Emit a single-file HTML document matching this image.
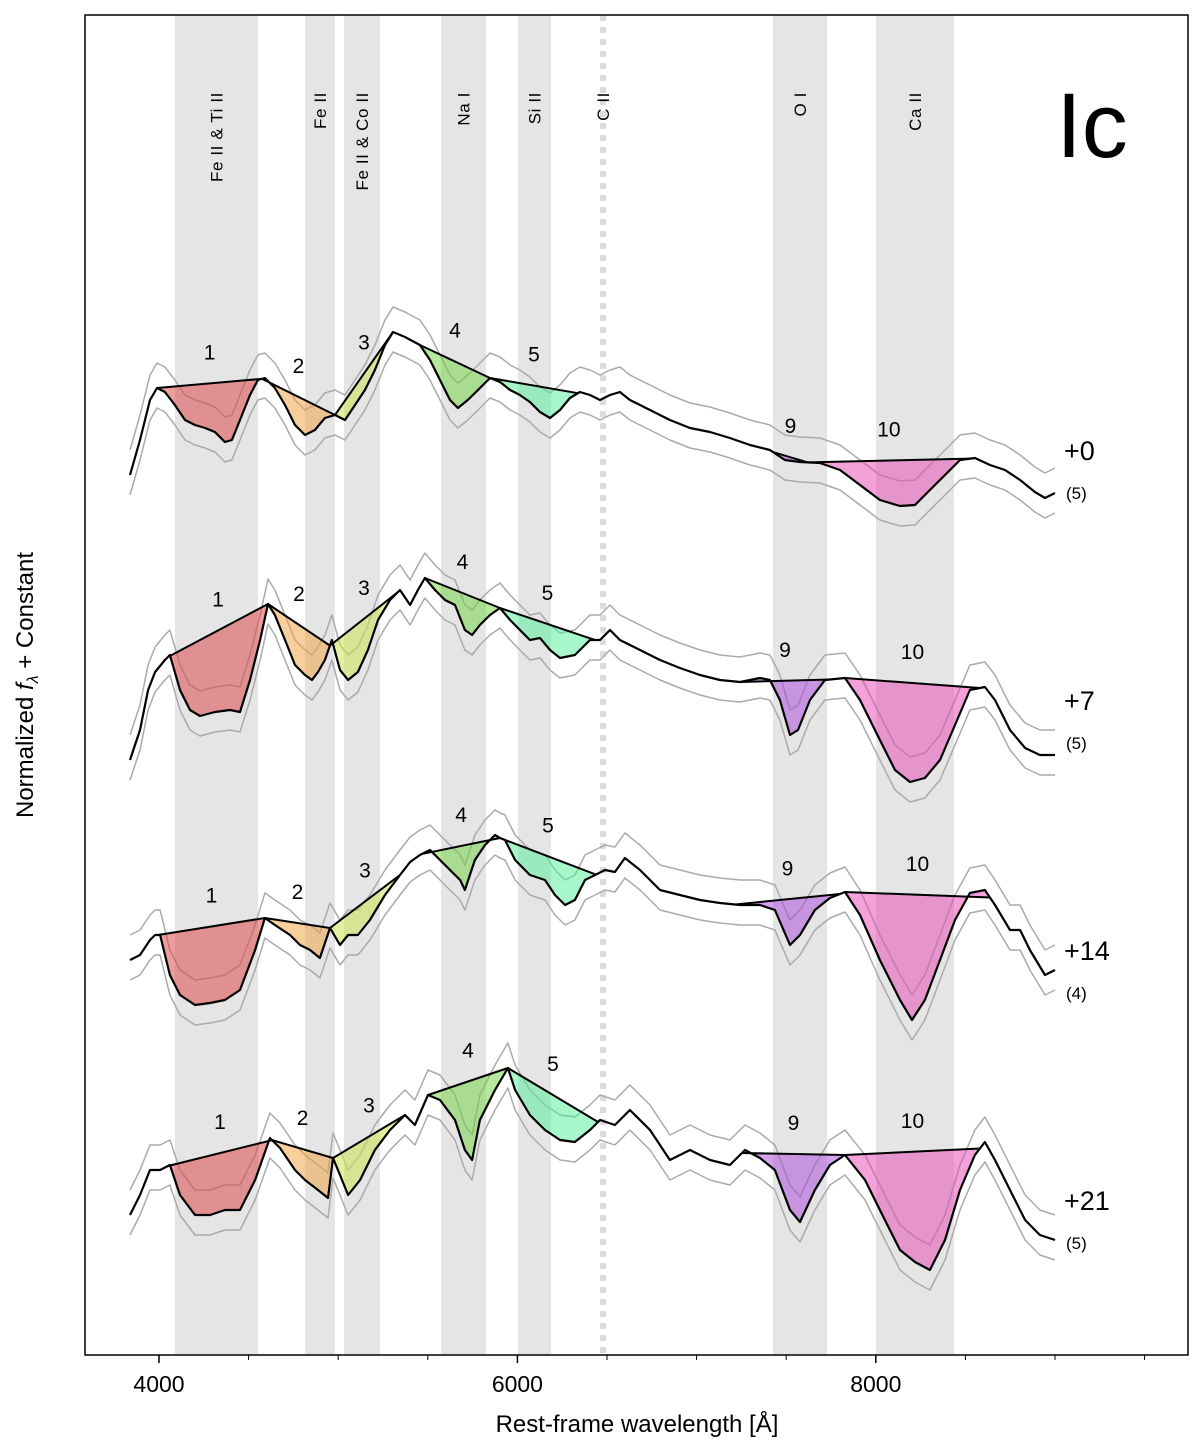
<!DOCTYPE html>
<html><head><meta charset="utf-8">
<style>
body{margin:0;background:#fff;}
svg{display:block;font-family:"Liberation Sans","DejaVu Sans",sans-serif;}
</style></head>
<body>
<svg id="chart" width="1200" height="1445" viewBox="0 0 1200 1445" xmlns="http://www.w3.org/2000/svg">
<g id="bands"></g>
<g id="spectra"></g>
<rect x="85" y="15" width="1103" height="1340" fill="none" stroke="#000" stroke-width="1.5"/>
<g id="axes"></g>
<text x="637" y="1432" font-size="24" text-anchor="middle">Rest-frame wavelength [Å]</text>
<text transform="translate(33,685) rotate(-90)" font-size="24" text-anchor="middle">Normalized <tspan font-style="italic">f</tspan><tspan font-style="italic" font-size="16" dy="5">λ</tspan><tspan dy="-5"> + Constant</tspan></text>
<text x="1092" y="157" font-size="92" text-anchor="middle">Ic</text>
</svg>
<script>
// ---- data ----
const bandStarts = [4089, 4815, 5032, 5574, 6003, 7426, 8001];
const bandEnds   = [4552, 4982, 5233, 5825, 6188, 7728, 8436];
const bandLabels = ["Fe II & Ti II", "Fe II", "Fe II & Co II", "Na I", "Si II", "O I", "Ca II"];
const cIIWave = 6478;
const xTicks = [4000, 6000, 8000];
const xMinorTicks = [4500, 5000, 5500, 6500, 7000, 7500, 8500, 9000, 9500];
const phases = ["+0", "+7", "+14", "+21"];
const counts = ["(5)", "(5)", "(4)", "(5)"];
const offsets = [8.55, 6.05, 3.55, 1.05];
const featIds = [1, 2, 3, 4, 5, 9, 10];
const featColors = ["rgba(220,60,60,0.5)","rgba(240,160,60,0.5)","rgba(200,230,80,0.55)","rgba(110,210,60,0.5)","rgba(80,240,150,0.5)","rgba(170,70,220,0.5)","rgba(230,70,180,0.5)"];

const W0 = [3838,3894,3950,3989,4033,4089,4145,4201,4257,4312,4368,4407,4452,4508,4552,4591,4647,4703,4759,4815,4870,4926,4982,5038,5094,5149,5205,5261,5306,5373,5456,5512,5568,5624,5668,5723,5780,5847,5903,5959,6014,6070,6126,6182,6238,6293,6349,6405,6461,6517,6572,6628,6740,6851,6963,7075,7186,7298,7409,7493,7577,7688,7800,7912,8023,8135,8219,8302,8386,8470,8553,8637,8721,8805,8888,8944,9000];
const F0 = [.25,.60,1.00,1.12,1.08,.95,.80,.75,.72,.68,.58,.60,.80,1.05,1.20,1.22,1.12,.95,.75,.65,.70,.82,.85,.80,.95,1.10,1.30,1.55,1.68,1.63,1.55,1.40,1.20,1.00,.92,1.00,1.10,1.22,1.18,1.10,1.05,.98,.88,.82,.90,1.02,1.08,1.05,1.00,1.05,1.08,1.00,.90,.80,.72,.68,.62,.55,.50,.40,.38,.37,.30,.15,0,-.06,-.05,.10,.25,.40,.42,.35,.30,.20,.08,.02,.07];
const W1 = [3838,3894,3939,3978,4033,4061,4117,4173,4229,4312,4396,4452,4508,4564,4608,4647,4703,4759,4815,4854,4887,4926,4965,5010,5055,5110,5166,5222,5289,5345,5401,5445,5484,5540,5596,5652,5707,5747,5791,5847,5903,5959,6014,6070,6126,6182,6238,6321,6405,6461,6517,6572,6684,6796,6907,7019,7130,7242,7354,7409,7465,7521,7566,7633,7716,7828,7912,8023,8107,8191,8274,8358,8442,8525,8609,8665,8749,8833,8916,9000];
const F1 = [-.10,.20,.60,.78,.90,.95,.60,.40,.34,.38,.40,.38,.70,1.10,1.46,1.35,1.10,.85,.75,.70,.78,.90,1.10,.80,.70,.78,1.00,1.30,1.50,1.60,1.45,1.60,1.72,1.60,1.50,1.45,1.20,1.15,1.25,1.35,1.42,1.30,1.20,1.10,1.12,1.00,.92,.95,1.10,1.10,1.20,1.10,1.00,.90,.82,.75,.70,.68,.72,.70,.50,.15,.20,.50,.70,.72,.50,.10,-.20,-.32,-.28,-.10,.25,.60,.63,.50,.20,.02,-.05,-.05];
const W2 = [3838,3894,3950,3978,4006,4061,4117,4201,4285,4368,4452,4536,4591,4647,4731,4787,4843,4898,4954,5010,5055,5110,5177,5261,5345,5401,5456,5512,5568,5624,5680,5707,5763,5819,5875,5903,5931,5987,6070,6154,6210,6266,6321,6377,6433,6489,6544,6600,6684,6796,6907,7019,7130,7242,7354,7437,7521,7577,7660,7744,7828,7912,8023,8135,8202,8274,8358,8442,8525,8609,8665,8749,8805,8860,8944,9000];
const F2 = [.40,.45,.60,.65,.65,.25,.05,-.05,-.03,0,.10,.50,.82,.75,.65,.55,.50,.42,.72,.55,.65,.65,.80,1.05,1.25,1.38,1.45,1.50,1.40,1.30,1.20,1.10,1.40,1.55,1.65,1.62,1.60,1.40,1.25,1.20,1.05,.95,1.00,1.20,1.25,1.30,1.28,1.42,1.30,1.10,1.05,1.00,.97,.95,.95,.90,.55,.65,.90,1.02,1.08,.85,.40,0,-.20,0,.40,.80,1.07,1.10,.95,.70,.70,.50,.25,.30];
const W3 = [3838,3894,3950,4006,4061,4117,4201,4285,4368,4452,4536,4619,4675,4759,4815,4887,4943,4971,5010,5055,5122,5205,5289,5373,5428,5501,5568,5652,5707,5747,5791,5875,5947,5987,6070,6154,6238,6321,6405,6461,6544,6628,6740,6851,6963,7075,7186,7270,7354,7437,7521,7577,7660,7744,7828,7940,8051,8135,8219,8302,8386,8470,8553,8609,8665,8749,8833,8916,9000];
const F3 = [.35,.55,.80,.80,.85,.55,.35,.35,.40,.40,.70,1.12,1.02,.80,.70,.60,.52,.92,.75,.55,.70,1.00,1.20,1.35,1.25,1.55,1.50,1.30,1.00,.90,1.30,1.60,1.82,1.60,1.35,1.20,1.10,1.08,1.20,1.30,1.25,1.40,1.20,.90,1.00,.90,.85,1.00,.92,.80,.40,.28,.60,.85,.95,.70,.30,0,-.12,-.20,.10,.60,.95,1.08,.90,.60,.30,.15,.10];

const featStart0 = [3989,4575,4982,5456,5847,7426,7621];
const featEnd0   = [4575,4982,5306,5847,6338,7621,8525];
const featStart1 = [4050,4608,4954,5484,5903,7242,7828];
const featEnd1   = [4608,4954,5334,5903,6433,7744,8581];
const featStart2 = [3994,4591,4954,5468,5903,7214,7828];
const featEnd2   = [4591,4954,5345,5903,6438,7800,8637];
const featStart3 = [4050,4631,4971,5501,5947,7253,7828];
const featEnd3   = [4631,4971,5373,5947,6450,7828,8581];

const errUp = 0.25, errDown = 0.2;

// ---- helpers ----
const NS = "http://www.w3.org/2000/svg";
const X = w => 159 + (w - 4000) * 0.1792;
const Y = v => 1355 - v * 100;
function mk(tag, attrs, parent){ const e=document.createElementNS(NS,tag); for(const k in attrs) e.setAttribute(k,attrs[k]); parent.appendChild(e); return e; }
function interp(W,F,w){ for(let i=0;i<W.length-1;i++){ if(w>=W[i]&&w<=W[i+1]){ const t=(w-W[i])/(W[i+1]-W[i]); return F[i]+t*(F[i+1]-F[i]); } } return w<W[0]?F[0]:F[F.length-1]; }

// ---- bands ----
const bands = document.getElementById('bands');
for(let i=0;i<bandStarts.length;i++){
  const r = mk('rect',{x:X(bandStarts[i]),y:15,width:X(bandEnds[i])-X(bandStarts[i]),height:1340,fill:'#e5e5e5'},bands);
  
  
  const cx = X((bandStarts[i]+bandEnds[i])/2)+6;
  const t = mk('text',{transform:`translate(${cx},92) rotate(-90)`,'font-size':17,'letter-spacing':'0.6','text-anchor':'end'},bands);
  t.textContent = bandLabels[i];
  
  
}
const cl = mk('line',{x1:X(cIIWave),x2:X(cIIWave),y1:15,y2:1355,stroke:'#dcdcdc','stroke-width':6,'stroke-dasharray':'6,6'},bands);


const ct = mk('text',{transform:`translate(${X(cIIWave)+6},92) rotate(-90)`,'font-size':17,'letter-spacing':'0.6','text-anchor':'end'},bands);
ct.textContent = 'C II';



// ---- spectra ----
const sp = document.getElementById('spectra');
const Ws=[W0,W1,W2,W3], Fs=[F0,F1,F2,F3];
const FSs=[featStart0,featStart1,featStart2,featStart3], FEs=[featEnd0,featEnd1,featEnd2,featEnd3];
for(let s=0;s<4;s++){
  const W=Ws[s],F=Fs[s],off=offsets[s];
  const g = mk('g',{},sp);
  
  
  const line = (d)=>W.map((w,i)=>(i?'L':'M')+X(w).toFixed(1)+','+Y(F[i]+off+d).toFixed(1)).join(' ');
  const u = mk('path',{d:line(errUp),fill:'none',stroke:'#aaa','stroke-width':1.5,'stroke-linejoin':'round'},g);
  
  
  const l = mk('path',{d:line(-errDown),fill:'none',stroke:'#aaa','stroke-width':1.5,'stroke-linejoin':'round'},g);
  
  
  for(let f=0;f<featIds.length;f++){
    const a=FSs[s][f], b=FEs[s][f];
    const fa=interp(W,F,a)+off, fb=interp(W,F,b)+off;
    let pts=[[X(a),Y(fa)]];
    for(let i=0;i<W.length;i++) if(W[i]>a&&W[i]<b) pts.push([X(W[i]),Y(F[i]+off)]);
    pts.push([X(b),Y(fb)]);
    const poly = mk('polygon',{points:pts.map(p=>p[0].toFixed(1)+','+p[1].toFixed(1)).join(' '),fill:featColors[f]},g);
    
    
    const pl = mk('line',{x1:X(a),y1:Y(fa),x2:X(b),y2:Y(fb),stroke:'#000','stroke-width':2},g);
    
    
    const lt = mk('text',{x:(X(a)+X(b))/2,y:(Y(fa)+Y(fb))/2-24,'font-size':21,'text-anchor':'middle'},g);
    lt.textContent = featIds[f];
    
    
  }
  const m = mk('path',{d:line(0),fill:'none',stroke:'#000','stroke-width':2.2,'stroke-linejoin':'round'},g);
  
  
  const pt = mk('text',{x:1064,y:Y(off)-40,'font-size':27},g);
  pt.textContent = phases[s];
  
  
  const nt = mk('text',{x:1066,y:Y(off)-1,'font-size':17},g);
  nt.textContent = counts[s];
  
  
}

// ---- axis ----
const ax = document.getElementById('axes');
xTicks.forEach(t=>{
  const tk = mk('line',{x1:X(t),x2:X(t),y1:1355,y2:1363,stroke:'#000','stroke-width':1.5},ax);
  
  
  const tl = mk('text',{x:X(t),y:1392,'font-size':23,'text-anchor':'middle'},ax);
  tl.textContent = t;
  
  
});
xMinorTicks.forEach(t=>{
  const tk = mk('line',{x1:X(t),x2:X(t),y1:1355,y2:1360,stroke:'#000','stroke-width':1},ax);
  
  
});
</script>
</body></html>
